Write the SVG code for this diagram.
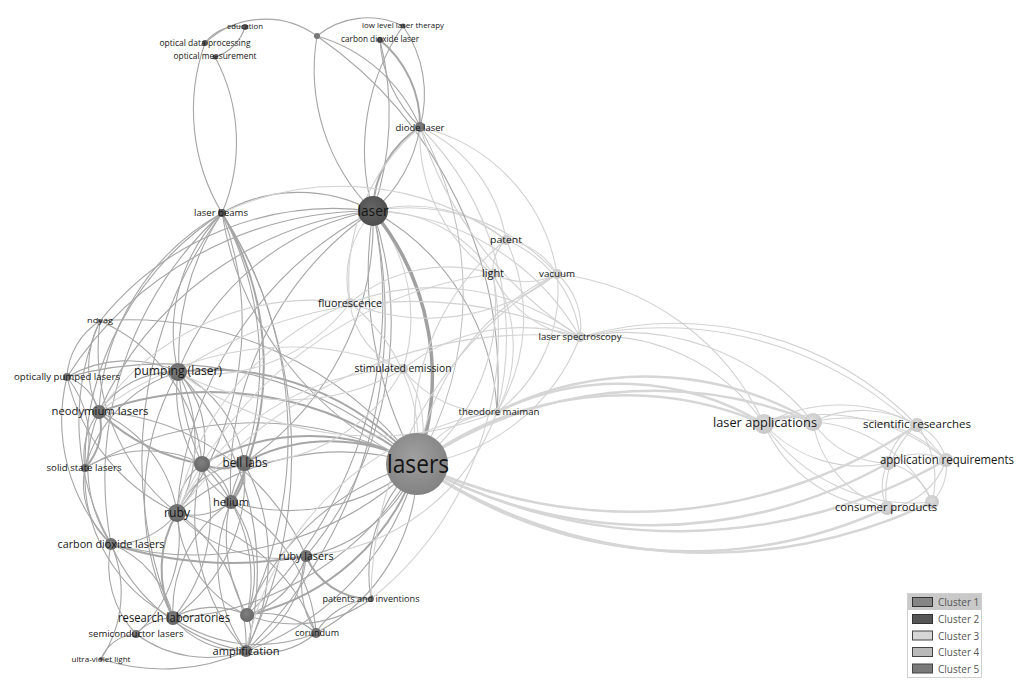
<svg xmlns="http://www.w3.org/2000/svg" width="1024" height="691" viewBox="0 0 1024 691">
<style>
.e{fill:none;stroke:#a6a6a6;stroke-width:1.1}
.et{fill:none;stroke:#a6a6a6;stroke-width:2}
.eh{fill:none;stroke:#a0a0a0;stroke-width:3.5}
.f{fill:none;stroke:#d2d2d2;stroke-width:1.1}
.ft{fill:none;stroke:#d6d6d6;stroke-width:2.5}
.g{fill:none;stroke:#bdbdbd;stroke-width:1}
text{font-family:"Open Sans","Noto Sans","Liberation Sans",sans-serif;fill:#151515;text-anchor:middle}
.lg{font-family:"Open Sans","Liberation Sans",sans-serif;font-size:10px;fill:#555;text-anchor:start}
</style>
<defs>
<radialGradient id="gL" cx="0.45" cy="0.4" r="0.6"><stop offset="0" stop-color="#a0a0a0"/><stop offset="1" stop-color="#828282"/></radialGradient>
<radialGradient id="gK" cx="0.45" cy="0.4" r="0.6"><stop offset="0" stop-color="#666"/><stop offset="1" stop-color="#4c4c4c"/></radialGradient>
<radialGradient id="gd" cx="0.45" cy="0.4" r="0.6"><stop offset="0" stop-color="#808080"/><stop offset="1" stop-color="#656565"/></radialGradient>
<radialGradient id="gl" cx="0.45" cy="0.4" r="0.6"><stop offset="0" stop-color="#dcdcdc"/><stop offset="1" stop-color="#c6c6c6"/></radialGradient>
</defs>
<rect width="1024" height="691" fill="#fff"/>
<g id="connectors">
<path class="e" d="M373 211A155 155 0 0 0 222 213"/>
<path class="et" d="M373 211A100 100 0 0 1 420 127"/>
<path class="e" d="M373 211A140 140 0 0 0 420 127"/>
<path class="e" d="M373 211A300 300 0 0 0 380 40"/>
<path class="e" d="M373 211A220 220 0 0 1 403 26"/>
<path class="e" d="M373 211A200 200 0 0 1 317 36"/>
<path class="f" d="M373 211A150 150 0 0 1 506 240"/>
<path class="f" d="M373 211A140 140 0 0 1 493 274"/>
<path class="f" d="M373 211A200 200 0 0 1 557 274"/>
<path class="f" d="M373 211A100 100 0 0 0 350 303"/>
<path class="f" d="M373 211A170 170 0 0 1 403 369"/>
<path class="e" d="M373 211A240 240 0 0 1 497 412"/>
<path class="e" d="M373 211A260 260 0 0 0 178 372"/>
<path class="e" d="M373 211A340 340 0 0 0 99 412"/>
<path class="e" d="M373 211A370 370 0 0 0 177 513"/>
<path class="e" d="M373 211A290 290 0 0 1 244 463"/>
<path class="e" d="M373 211A330 330 0 0 0 231 502"/>
<path class="e" d="M373 211A360 360 0 0 1 306 556"/>
<path class="e" d="M373 211A430 430 0 0 1 247 615"/>
<path class="e" d="M373 211A300 300 0 0 0 100 321"/>
<path class="e" d="M373 211A360 360 0 0 0 67 377"/>
<path class="f" d="M373 211A250 250 0 0 1 580 337"/>
<path class="e" d="M373 211A470 470 0 0 1 246 651"/>
<path class="eh" d="M373 211A260 260 0 0 1 417 464"/>
<path class="e" d="M373 211A400 400 0 0 0 417 464"/>
<path class="e" d="M222 213A200 200 0 0 1 205 43"/>
<path class="e" d="M222 213A180 180 0 0 0 215 57"/>
<path class="e" d="M222 213A310 310 0 0 1 177 513"/>
<path class="et" d="M222 213A300 300 0 0 1 231 502"/>
<path class="e" d="M222 213A320 320 0 0 1 244 463"/>
<path class="e" d="M222 213A410 410 0 0 1 247 615"/>
<path class="e" d="M222 213A240 240 0 0 0 99 412"/>
<path class="e" d="M222 213A170 170 0 0 0 178 372"/>
<path class="e" d="M222 213A360 360 0 0 0 111 544"/>
<path class="e" d="M222 213A420 420 0 0 0 173 618"/>
<path class="e" d="M222 213A330 330 0 0 0 417 464"/>
<path class="e" d="M222 213A260 260 0 0 0 202 464"/>
<path class="e" d="M222 213A450 450 0 0 1 246 651"/>
<path class="e" d="M222 213A300 300 0 0 0 85 468"/>
<path class="f" d="M222 213A280 280 0 0 1 506 240"/>
<path class="e" d="M245 27A40 40 0 0 0 205 43"/>
<path class="e" d="M245 27A45 45 0 0 1 215 57"/>
<path class="e" d="M205 43A88 88 0 0 1 317 36"/>
<path class="e" d="M317 36A80 80 0 0 1 403 26"/>
<path class="e" d="M317 36A160 160 0 0 1 420 127"/>
<path class="e" d="M317 36A420 420 0 0 1 497 412"/>
<path class="e" d="M380 40A130 130 0 0 0 420 127"/>
<path class="e" d="M403 26A120 120 0 0 1 420 127"/>
<path class="et" d="M380 40A110 110 0 0 1 420 127"/>
<path class="f" d="M420 127A150 150 0 0 1 506 240"/>
<path class="f" d="M420 127A170 170 0 0 0 493 274"/>
<path class="f" d="M420 127A180 180 0 0 1 557 274"/>
<path class="f" d="M420 127A300 300 0 0 1 497 412"/>
<path class="f" d="M420 127A200 200 0 0 0 350 303"/>
<path class="g" d="M420 127A340 340 0 0 1 417 464"/>
<path class="f" d="M420 127A380 380 0 0 0 580 337"/>
<path class="e" d="M178 372A90 90 0 0 0 99 412"/>
<path class="e" d="M178 372A120 120 0 0 0 67 377"/>
<path class="e" d="M178 372A150 150 0 0 1 177 513"/>
<path class="e" d="M178 372A120 120 0 0 1 244 463"/>
<path class="e" d="M178 372A140 140 0 0 0 231 502"/>
<path class="e" d="M178 372A100 100 0 0 1 202 464"/>
<path class="e" d="M178 372A260 260 0 0 0 173 618"/>
<path class="e" d="M178 372A290 290 0 0 1 246 651"/>
<path class="e" d="M178 372A140 140 0 0 0 85 468"/>
<path class="et" d="M178 372A270 270 0 0 1 417 464"/>
<path class="et" d="M99 412A330 330 0 0 1 417 464"/>
<path class="e" d="M99 412A50 50 0 0 0 67 377"/>
<path class="et" d="M99 412A60 60 0 0 1 85 468"/>
<path class="e" d="M99 412A70 70 0 0 0 85 468"/>
<path class="e" d="M99 412A100 100 0 0 1 100 321"/>
<path class="et" d="M99 412A200 200 0 0 0 202 464"/>
<path class="e" d="M99 412A130 130 0 0 1 177 513"/>
<path class="e" d="M99 412A140 140 0 0 0 111 544"/>
<path class="e" d="M99 412A240 240 0 0 1 306 556"/>
<path class="e" d="M67 377A70 70 0 0 1 100 321"/>
<path class="e" d="M67 377A100 100 0 0 1 85 468"/>
<path class="e" d="M67 377A180 180 0 0 0 111 544"/>
<path class="e" d="M67 377A370 370 0 0 1 417 464"/>
<path class="e" d="M67 377A200 200 0 0 0 177 513"/>
<path class="e" d="M100 321A210 210 0 0 0 177 513"/>
<path class="e" d="M100 321A170 170 0 0 1 202 464"/>
<path class="e" d="M100 321A360 360 0 0 1 417 464"/>
<path class="e" d="M100 321A250 250 0 0 0 111 544"/>
<path class="e" d="M85 468A80 80 0 0 0 111 544"/>
<path class="e" d="M85 468A120 120 0 0 1 202 464"/>
<path class="e" d="M85 468A340 340 0 0 1 417 464"/>
<path class="e" d="M85 468A160 160 0 0 0 173 618"/>
<path class="et" d="M202 464A50 50 0 0 0 244 463"/>
<path class="e" d="M202 464A50 50 0 0 1 231 502"/>
<path class="e" d="M202 464A60 60 0 0 0 177 513"/>
<path class="e" d="M202 464A160 160 0 0 1 173 618"/>
<path class="e" d="M202 464A200 200 0 0 0 246 651"/>
<path class="e" d="M202 464A160 160 0 0 1 247 615"/>
<path class="et" d="M202 464A220 220 0 0 1 417 464"/>
<path class="et" d="M244 463A50 50 0 0 1 231 502"/>
<path class="e" d="M244 463A80 80 0 0 0 177 513"/>
<path class="e" d="M244 463A160 160 0 0 0 247 615"/>
<path class="e" d="M244 463A200 200 0 0 1 246 651"/>
<path class="e" d="M244 463A170 170 0 0 1 173 618"/>
<path class="et" d="M244 463A180 180 0 0 1 417 464"/>
<path class="e" d="M231 502A60 60 0 0 1 177 513"/>
<path class="e" d="M231 502A150 150 0 0 0 246 651"/>
<path class="e" d="M231 502A120 120 0 0 1 247 615"/>
<path class="e" d="M231 502A130 130 0 0 0 173 618"/>
<path class="e" d="M231 502A160 160 0 0 1 316 633"/>
<path class="e" d="M231 502A200 200 0 0 0 417 464"/>
<path class="e" d="M177 513A80 80 0 0 1 111 544"/>
<path class="et" d="M177 513A110 110 0 0 0 173 618"/>
<path class="e" d="M177 513A130 130 0 0 1 136 634"/>
<path class="e" d="M177 513A120 120 0 0 0 247 615"/>
<path class="e" d="M177 513A160 160 0 0 1 246 651"/>
<path class="e" d="M177 513A140 140 0 0 0 306 556"/>
<path class="e" d="M177 513A190 190 0 0 1 316 633"/>
<path class="e" d="M177 513A250 250 0 0 1 417 464"/>
<path class="e" d="M111 544A100 100 0 0 1 173 618"/>
<path class="e" d="M111 544A100 100 0 0 0 136 634"/>
<path class="e" d="M111 544A120 120 0 0 1 101 659"/>
<path class="et" d="M111 544A400 400 0 0 0 306 556"/>
<path class="e" d="M111 544A180 180 0 0 0 246 651"/>
<path class="e" d="M111 544A320 320 0 0 0 417 464"/>
<path class="et" d="M306 556A70 70 0 0 0 371 599"/>
<path class="e" d="M306 556A90 90 0 0 1 247 615"/>
<path class="e" d="M306 556A90 90 0 0 0 316 633"/>
<path class="e" d="M306 556A120 120 0 0 1 246 651"/>
<path class="e" d="M306 556A150 150 0 0 0 417 464"/>
<path class="e" d="M247 615A80 80 0 0 0 173 618"/>
<path class="e" d="M247 615A40 40 0 0 1 246 651"/>
<path class="e" d="M247 615A80 80 0 0 1 316 633"/>
<path class="e" d="M247 615A130 130 0 0 0 371 599"/>
<path class="et" d="M247 615A230 230 0 0 0 417 464"/>
<path class="e" d="M247 615A260 260 0 0 1 417 464"/>
<path class="e" d="M173 618A50 50 0 0 0 136 634"/>
<path class="e" d="M173 618A90 90 0 0 0 246 651"/>
<path class="e" d="M173 618A150 150 0 0 0 316 633"/>
<path class="e" d="M173 618A300 300 0 0 0 417 464"/>
<path class="e" d="M136 634A40 40 0 0 0 101 659"/>
<path class="e" d="M136 634A120 120 0 0 0 246 651"/>
<path class="e" d="M246 651A80 80 0 0 0 316 633"/>
<path class="e" d="M246 651A270 270 0 0 0 417 464"/>
<path class="e" d="M316 633A70 70 0 0 1 371 599"/>
<path class="e" d="M316 633A190 190 0 0 0 417 464"/>
<path class="e" d="M371 599A150 150 0 0 1 417 464"/>
<path class="e" d="M101 659A200 200 0 0 0 246 651"/>
<path class="f" d="M506 240A40 40 0 0 0 493 274"/>
<path class="f" d="M506 240A70 70 0 0 1 557 274"/>
<path class="f" d="M506 240A120 120 0 0 1 580 337"/>
<path class="f" d="M506 240A180 180 0 0 1 497 412"/>
<path class="f" d="M493 274A70 70 0 0 0 557 274"/>
<path class="f" d="M493 274A110 110 0 0 0 580 337"/>
<path class="f" d="M493 274A140 140 0 0 1 497 412"/>
<path class="f" d="M493 274A150 150 0 0 0 350 303"/>
<path class="f" d="M557 274A70 70 0 0 1 580 337"/>
<path class="f" d="M557 274A150 150 0 0 1 497 412"/>
<path class="f" d="M557 274A260 260 0 0 1 764 424"/>
<path class="f" d="M557 274A210 210 0 0 1 350 303"/>
<path class="f" d="M350 303A80 80 0 0 0 403 369"/>
<path class="f" d="M350 303A240 240 0 0 1 580 337"/>
<path class="f" d="M403 369A190 190 0 0 1 580 337"/>
<path class="f" d="M403 369A110 110 0 0 0 497 412"/>
<path class="ft" d="M497 412A280 280 0 0 1 764 424"/>
<path class="ft" d="M497 412A330 330 0 0 1 813 422"/>
<path class="f" d="M580 337A200 200 0 0 1 764 424"/>
<path class="f" d="M580 337A240 240 0 0 1 813 422"/>
<path class="f" d="M580 337A340 340 0 0 1 917 425"/>
<path class="f" d="M580 337A370 370 0 0 1 946 460"/>
<path class="ft" d="M764 424A50 50 0 0 1 813 422"/>
<path class="f" d="M764 424A160 160 0 0 1 917 425"/>
<path class="f" d="M764 424A130 130 0 0 0 888 463"/>
<path class="f" d="M764 424A190 190 0 0 1 946 460"/>
<path class="f" d="M764 424A140 140 0 0 0 887 508"/>
<path class="f" d="M764 424A180 180 0 0 0 932 502"/>
<path class="f" d="M813 422A110 110 0 0 1 917 425"/>
<path class="f" d="M813 422A90 90 0 0 0 888 463"/>
<path class="f" d="M813 422A140 140 0 0 1 946 460"/>
<path class="f" d="M813 422A110 110 0 0 0 887 508"/>
<path class="f" d="M813 422A140 140 0 0 1 932 502"/>
<path class="f" d="M917 425A50 50 0 0 0 888 463"/>
<path class="f" d="M917 425A50 50 0 0 1 946 460"/>
<path class="f" d="M917 425A90 90 0 0 0 887 508"/>
<path class="f" d="M917 425A90 90 0 0 1 932 502"/>
<path class="f" d="M888 463A60 60 0 0 1 946 460"/>
<path class="f" d="M888 463A50 50 0 0 0 887 508"/>
<path class="f" d="M888 463A60 60 0 0 1 932 502"/>
<path class="f" d="M946 460A70 70 0 0 1 887 508"/>
<path class="f" d="M946 460A50 50 0 0 1 932 502"/>
<path class="f" d="M887 508A50 50 0 0 0 932 502"/>
<path class="ft" d="M417 464A350 350 0 0 1 764 424"/>
<path class="ft" d="M417 464A420 420 0 0 1 813 422"/>
<path class="ft" d="M417 464A470 470 0 0 0 887 508"/>
<path class="ft" d="M417 464A520 520 0 0 0 932 502"/>
<path class="ft" d="M417 464A480 480 0 0 0 888 463"/>
<path class="ft" d="M417 464A540 540 0 0 0 946 460"/>
<path class="ft" d="M417 464A510 510 0 0 0 917 425"/>
<path class="f" d="M350 303A280 280 0 0 0 177 513"/>
<path class="f" d="M350 303A180 180 0 0 1 178 372"/>
<path class="f" d="M350 303A260 260 0 0 0 99 412"/>
<path class="f" d="M350 303A180 180 0 0 1 417 464"/>
<path class="f" d="M403 369A260 260 0 0 0 177 513"/>
<path class="f" d="M403 369A230 230 0 0 1 178 372"/>
<path class="f" d="M403 369A310 310 0 0 0 99 412"/>
<path class="f" d="M403 369A180 180 0 0 1 244 463"/>
<path class="f" d="M403 369A100 100 0 0 1 417 464"/>
<path class="f" d="M493 274A400 400 0 0 0 177 513"/>
<path class="f" d="M493 274A200 200 0 0 1 417 464"/>
<path class="f" d="M506 240A240 240 0 0 0 417 464"/>
<path class="f" d="M557 274A250 250 0 0 0 417 464"/>
<path class="f" d="M580 337A200 200 0 0 1 417 464"/>
<path class="f" d="M497 412A100 100 0 0 0 417 464"/>
<path class="f" d="M497 412A220 220 0 0 1 306 556"/>
<path class="f" d="M497 412A300 300 0 0 0 246 651"/>
<path class="f" d="M371 599A340 340 0 0 0 493 274"/>
<path class="f" d="M371 599A380 380 0 0 1 557 274"/>
<path class="f" d="M497 412A330 330 0 0 1 178 372"/>
<path class="f" d="M580 337A420 420 0 0 0 178 372"/>
<path class="f" d="M580 337A450 450 0 0 0 177 513"/>
</g>
<g id="node-la2"><circle cx="813" cy="422" r="9" fill="url(#gl)"/></g>
<g id="node-ar1"><circle cx="888" cy="463" r="7" fill="url(#gl)"/></g>
<g id="node-cp2"><circle cx="932" cy="502" r="7" fill="url(#gl)"/></g>
<g id="node-u1"><circle cx="317" cy="36" r="3" fill="#777"/></g>
<g id="node-u2"><circle cx="202" cy="464" r="8" fill="url(#gd)"/></g>
<g id="node-u3"><circle cx="247" cy="615" r="7" fill="url(#gd)"/></g>
<g id="node-education"><circle cx="245" cy="27" r="3" fill="#555"/><text x="245" y="29" font-size="8" textLength="36" lengthAdjust="spacingAndGlyphs">education</text></g>
<g id="node-optical-data-processing"><circle cx="205" cy="43" r="3" fill="#555"/><text x="205" y="46" font-size="8.5" textLength="91" lengthAdjust="spacingAndGlyphs">optical data processing</text></g>
<g id="node-optical-measurement"><circle cx="215" cy="57" r="2.5" fill="#555"/><text x="215" y="59" font-size="8.5" textLength="83" lengthAdjust="spacingAndGlyphs">optical measurement</text></g>
<g id="node-low-level-laser-therapy"><circle cx="403" cy="26" r="2.5" fill="#666"/><text x="403" y="28" font-size="8" textLength="82" lengthAdjust="spacingAndGlyphs">low level laser therapy</text></g>
<g id="node-carbon-dioxide-laser"><circle cx="380" cy="40" r="3" fill="#555"/><text x="380" y="42" font-size="8.5" textLength="78" lengthAdjust="spacingAndGlyphs">carbon dioxide laser</text></g>
<g id="node-diode-laser"><circle cx="420" cy="127" r="5" fill="#777"/><text x="420" y="131" font-size="9.5" textLength="49" lengthAdjust="spacingAndGlyphs">diode laser</text></g>
<g id="node-laser-beams"><circle cx="222" cy="213" r="4" fill="#555"/><text x="221" y="216" font-size="9.5" textLength="54" lengthAdjust="spacingAndGlyphs">laser beams</text></g>
<g id="node-laser"><circle cx="373" cy="211" r="15" fill="url(#gK)"/><text x="373" y="216" font-size="15" textLength="31" lengthAdjust="spacingAndGlyphs">laser</text></g>
<g id="node-patent"><circle cx="506" cy="240" r="5" fill="url(#gl)"/><text x="506" y="243" font-size="9.5" textLength="32" lengthAdjust="spacingAndGlyphs">patent</text></g>
<g id="node-light"><circle cx="493" cy="274" r="5" fill="url(#gl)"/><text x="493" y="277" font-size="10" textLength="22" lengthAdjust="spacingAndGlyphs">light</text></g>
<g id="node-vacuum"><circle cx="557" cy="274" r="5" fill="url(#gl)"/><text x="557" y="277" font-size="9.5" textLength="36" lengthAdjust="spacingAndGlyphs">vacuum</text></g>
<g id="node-fluorescence"><circle cx="350" cy="303" r="5" fill="url(#gl)"/><text x="350" y="307" font-size="10.5" textLength="64" lengthAdjust="spacingAndGlyphs">fluorescence</text></g>
<g id="node-laser-spectroscopy"><circle cx="580" cy="337" r="5" fill="url(#gl)"/><text x="580" y="340" font-size="9.5" textLength="83" lengthAdjust="spacingAndGlyphs">laser spectroscopy</text></g>
<g id="node-stimulated-emission"><circle cx="403" cy="369" r="5" fill="url(#gl)"/><text x="403" y="372" font-size="10" textLength="97" lengthAdjust="spacingAndGlyphs">stimulated emission</text></g>
<g id="node-theodore-maiman"><circle cx="497" cy="412" r="4" fill="url(#gl)"/><text x="499" y="415" font-size="9.5" textLength="81" lengthAdjust="spacingAndGlyphs">theodore maiman</text></g>
<g id="node-laser-applications"><circle cx="764" cy="424" r="10" fill="url(#gl)"/><text x="765" y="427" font-size="12.5" textLength="104" lengthAdjust="spacingAndGlyphs">laser applications</text></g>
<g id="node-scientific-researches"><circle cx="917" cy="425" r="7" fill="url(#gl)"/><text x="917" y="428" font-size="11.5" textLength="108" lengthAdjust="spacingAndGlyphs">scientific researches</text></g>
<g id="node-application-requirements"><circle cx="946" cy="460" r="7" fill="url(#gl)"/><text x="947" y="464" font-size="12" textLength="134" lengthAdjust="spacingAndGlyphs">application requirements</text></g>
<g id="node-consumer-products"><circle cx="887" cy="508" r="7" fill="url(#gl)"/><text x="886" y="511" font-size="11.5" textLength="102" lengthAdjust="spacingAndGlyphs">consumer products</text></g>
<g id="node-ndyag"><circle cx="100" cy="321" r="2" fill="#666"/><text x="100" y="323" font-size="7.5" textLength="26" lengthAdjust="spacingAndGlyphs">ndyag</text></g>
<g id="node-optically-pumped-lasers"><circle cx="67" cy="377" r="4" fill="url(#gd)"/><text x="67" y="380" font-size="9.5" textLength="106" lengthAdjust="spacingAndGlyphs">optically pumped lasers</text></g>
<g id="node-pumping-laser"><circle cx="178" cy="372" r="9" fill="url(#gd)"/><text x="178" y="375" font-size="12" textLength="88" lengthAdjust="spacingAndGlyphs">pumping (laser)</text></g>
<g id="node-neodymium-lasers"><circle cx="99" cy="412" r="7" fill="url(#gd)"/><text x="100" y="415" font-size="11" textLength="97" lengthAdjust="spacingAndGlyphs">neodymium lasers</text></g>
<g id="node-solid-state-lasers"><circle cx="85" cy="468" r="4" fill="url(#gd)"/><text x="84" y="471" font-size="9" textLength="75" lengthAdjust="spacingAndGlyphs">solid state lasers</text></g>
<g id="node-bell-labs"><circle cx="244" cy="463" r="8" fill="url(#gd)"/><text x="245" y="467" font-size="12" textLength="45" lengthAdjust="spacingAndGlyphs">bell labs</text></g>
<g id="node-helium"><circle cx="231" cy="502" r="7" fill="url(#gd)"/><text x="231" y="506" font-size="11.5" textLength="36" lengthAdjust="spacingAndGlyphs">helium</text></g>
<g id="node-ruby"><circle cx="177" cy="513" r="9" fill="url(#gd)"/><text x="177" y="517" font-size="12" textLength="26" lengthAdjust="spacingAndGlyphs">ruby</text></g>
<g id="node-carbon-dioxide-lasers"><circle cx="111" cy="544" r="6" fill="url(#gd)"/><text x="111" y="548" font-size="11" textLength="107" lengthAdjust="spacingAndGlyphs">carbon dioxide lasers</text></g>
<g id="node-ruby-lasers"><circle cx="306" cy="556" r="6" fill="url(#gd)"/><text x="306" y="560" font-size="11" textLength="55" lengthAdjust="spacingAndGlyphs">ruby lasers</text></g>
<g id="node-patents-and-inventions"><circle cx="371" cy="599" r="3" fill="#777"/><text x="371" y="602" font-size="9" textLength="97" lengthAdjust="spacingAndGlyphs">patents and inventions</text></g>
<g id="node-research-laboratories"><circle cx="173" cy="618" r="7" fill="url(#gd)"/><text x="174" y="622" font-size="12" textLength="112" lengthAdjust="spacingAndGlyphs">research laboratories</text></g>
<g id="node-semiconductor-lasers"><circle cx="136" cy="634" r="4" fill="url(#gd)"/><text x="136" y="637" font-size="9.5" textLength="95" lengthAdjust="spacingAndGlyphs">semiconductor lasers</text></g>
<g id="node-corundum"><circle cx="316" cy="633" r="5" fill="url(#gd)"/><text x="317" y="636" font-size="9.5" textLength="44" lengthAdjust="spacingAndGlyphs">corundum</text></g>
<g id="node-amplification"><circle cx="246" cy="651" r="6" fill="url(#gd)"/><text x="246" y="655" font-size="11.5" textLength="67" lengthAdjust="spacingAndGlyphs">amplification</text></g>
<g id="node-ultra-violet-light"><circle cx="101" cy="659" r="2" fill="#666"/><text x="101" y="662" font-size="8" textLength="59" lengthAdjust="spacingAndGlyphs">ultra-violet light</text></g>
<g id="node-lasers"><circle cx="417" cy="464" r="31" fill="url(#gL)"/><text x="418" y="473" font-size="26" textLength="62" lengthAdjust="spacingAndGlyphs">lasers</text></g>
<g id="legend">
<rect x="907.5" y="593.5" width="74" height="84" fill="#fff" stroke="#d0d0d0"/>
<rect x="908" y="594" width="73" height="16" fill="#c9c9c9"/>
<rect x="912.5" y="597.5" width="20" height="9" fill="#858585" stroke="#333"/>
<rect x="912.5" y="614.5" width="20" height="9" fill="#555" stroke="#333"/>
<rect x="912.5" y="631" width="20" height="9" fill="#d6d6d6" stroke="#444"/>
<rect x="912.5" y="647.5" width="20" height="9" fill="#b9b9b9" stroke="#444"/>
<rect x="912.5" y="664" width="20" height="9" fill="#7a7a7a" stroke="#444"/>
<text class="lg" x="938" y="606">Cluster 1</text>
<text class="lg" x="938" y="623">Cluster 2</text>
<text class="lg" x="938" y="639.5">Cluster 3</text>
<text class="lg" x="938" y="656">Cluster 4</text>
<text class="lg" x="938" y="672.5">Cluster 5</text>
</g>
</svg>
